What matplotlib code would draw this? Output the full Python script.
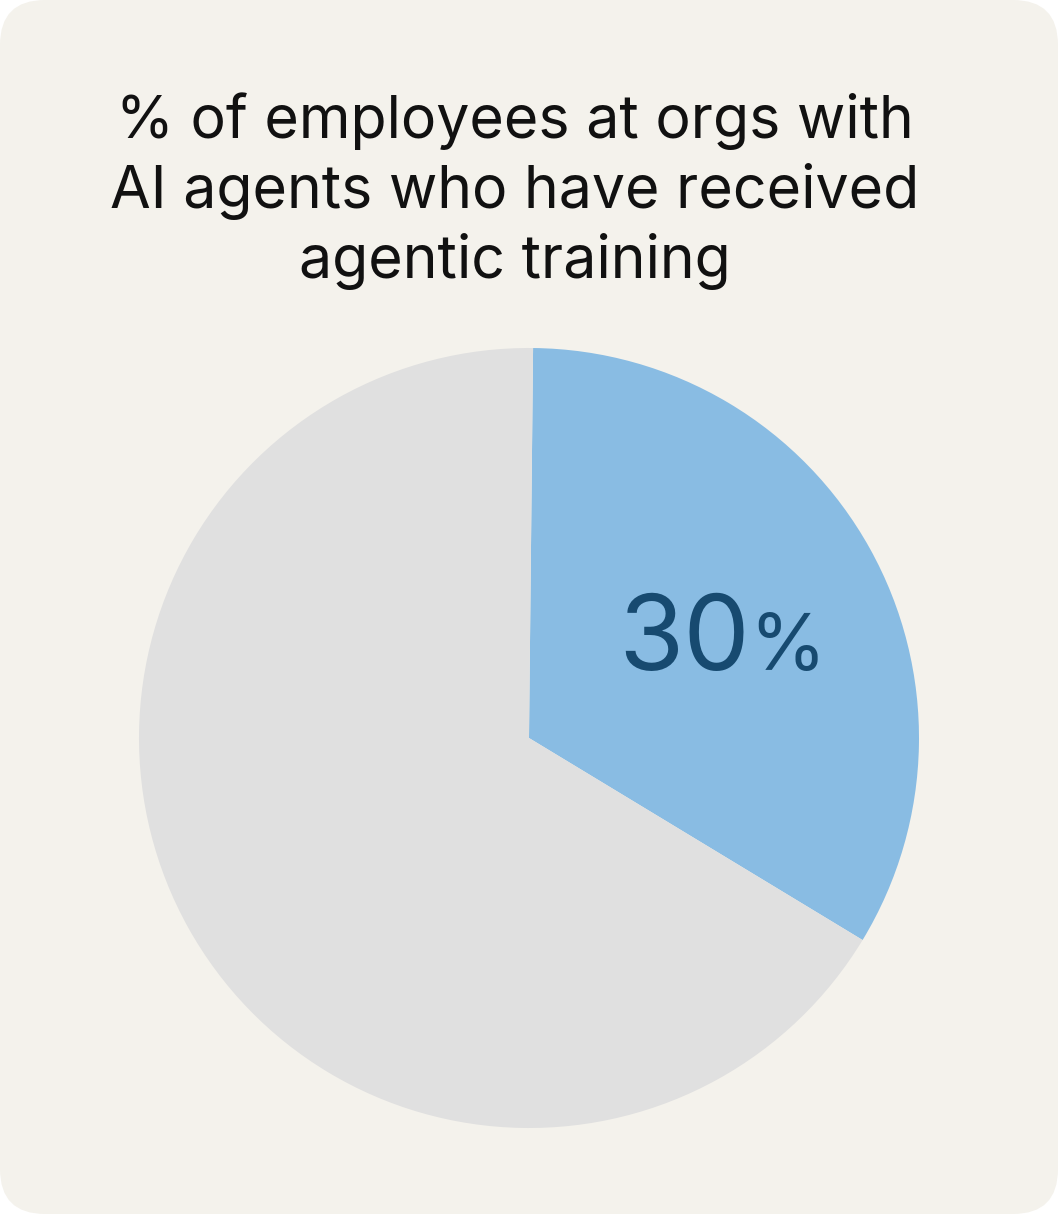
import matplotlib.pyplot as plt
from matplotlib.patches import FancyBboxPatch

# data
labels = ["trained", "not trained"]
shares = [33.5, 66.5]          # slice sizes as drawn
label_value = "30"             # printed label
title_lines = ["% of employees at orgs with",
               "AI agents who have received",
               "agentic training"]

W, H = 1058, 1214
bg = "#F4F2EC"
blue = "#89BCE3"
grey = "#E0E0E0"
dark = "#174A70"

plt.rcParams['font.family'] = ['Inter', 'DejaVu Sans']

fig = plt.figure(figsize=(W / 100, H / 100), dpi=100)
fig.patch.set_facecolor("white")

# background card in pixel units
bgax = fig.add_axes([0, 0, 1, 1])
bgax.set_xlim(0, W)
bgax.set_ylim(H, 0)
bgax.axis("off")
card = FancyBboxPatch((0, 0), W, H,
                      boxstyle="round,pad=0,rounding_size=45",
                      facecolor=bg, edgecolor="none")
bgax.add_patch(card)

for i, line in enumerate(title_lines):
    bgax.text(515, 121 + i * 70, line, ha="center", va="center",
              fontsize=42.5, color="#111111")

# pie
cx, cy, r = 529, 738, 390
ax = fig.add_axes([(cx - r) / W, (H - cy - r) / H, 2 * r / W, 2 * r / H])
ax.pie(shares, colors=[blue, grey], startangle=89.4, counterclock=False,
       radius=1, wedgeprops=dict(linewidth=0))
ax.set_xlim(-1, 1)
ax.set_ylim(-1, 1)
ax.axis("off")

ax.text(0.567, 0.245, label_value, ha="right", va="center",
        fontsize=76, color=dark)
ax.text(0.564, 0.226, "%", ha="left", va="center",
        fontsize=56, color=dark)

fig.savefig("out.png", dpi=100, facecolor=fig.get_facecolor())
